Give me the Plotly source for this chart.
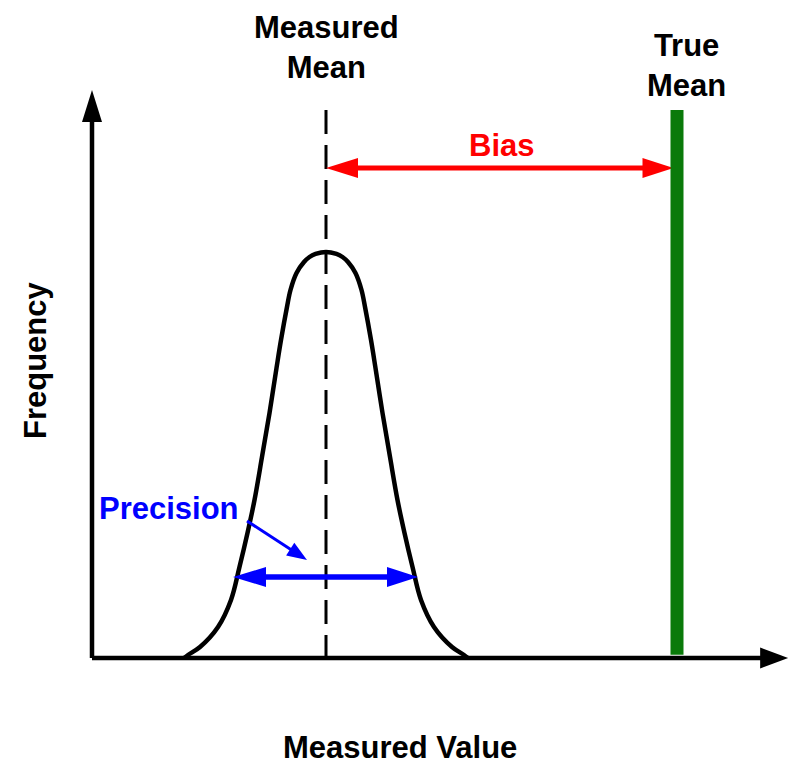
import plotly.graph_objects as go

# ---- data ----
curve_x = [1.573, 1.641, 1.846, 2.154, 2.376, 2.521, 2.658, 2.778, 2.906, 3.034, 3.154, 3.231, 3.333, 3.393,
           3.496, 3.624, 3.718, 3.821, 4.0,
           4.179, 4.282, 4.376, 4.504, 4.607, 4.667, 4.769, 4.846, 4.966, 5.094, 5.222, 5.342, 5.479, 5.624,
           5.846, 6.154, 6.359, 6.427]
curve_y = [0.0, 0.0074, 0.0271, 0.0764, 0.1429, 0.2241, 0.3079, 0.3892, 0.4951, 0.6034, 0.7143, 0.7833, 0.8645, 0.9064,
           0.9483, 0.9754, 0.9877, 0.9951, 1.0,
           0.9951, 0.9877, 0.9754, 0.9483, 0.9064, 0.8645, 0.7833, 0.7143, 0.6034, 0.4951, 0.3892, 0.3079, 0.2241, 0.1429,
           0.0764, 0.0271, 0.0074, 0.0]

measured_mean = 4.0
true_mean = 10.0
marker_top = 1.350          # top of the mean lines
bias_y = 1.207
precision_left = 2.410
precision_right = 5.573
precision_y = 0.1995
pointer_start = (2.650, 0.3374)
pointer_end = (3.675, 0.2414)
x_axis_end = 11.90
y_axis_end = 1.399

labels = {
    "measured_mean": "Measured<br>Mean",
    "true_mean": "True<br>Mean",
    "bias": "Bias",
    "precision": "Precision",
    "xlabel": "Measured Value",
    "ylabel": "Frequency",
}

# ---- scale (pixels per data unit) ----
W, H = 790, 761
PX_X, PX_Y = 58.5, 406.0
ORIG_PX, ORIG_PY = 92, 103   # origin offset from left / bottom
x_range = [-ORIG_PX / PX_X, (W - ORIG_PX) / PX_X]
y_range = [-ORIG_PY / PX_Y, (H - ORIG_PY) / PX_Y]
ORIG_TOP = H - ORIG_PY       # origin row from top

BLACK = "#000000"
RED = "#ff0000"
BLUE = "#0000ff"
GREEN = "#0a7a0a"
FONT = "Liberation Sans, Arial, sans-serif"


def head(tx, ty, ux, uy, L, Wd, color):
    """Filled triangular arrowhead, tip at (tx,ty), pointing along pixel dir (ux,uy) (y up)."""
    n = (ux ** 2 + uy ** 2) ** 0.5
    ux, uy = ux / n, uy / n
    px, py = -uy, ux
    bx, by = -ux * L, -uy * L
    p1 = (tx, ty)
    p2 = (tx + (bx + px * Wd / 2) / PX_X, ty + (by + py * Wd / 2) / PX_Y)
    p3 = (tx + (bx - px * Wd / 2) / PX_X, ty + (by - py * Wd / 2) / PX_Y)
    path = f"M {p1[0]},{p1[1]} L {p2[0]},{p2[1]} L {p3[0]},{p3[1]} Z"
    return dict(type="path", path=path, fillcolor=color, line=dict(width=0), xref="x", yref="y")


def seg(x0, y0, x1, y1, color, width, dash="solid"):
    return dict(type="line", x0=x0, y0=y0, x1=x1, y1=y1, xref="x", yref="y",
                line=dict(color=color, width=width, dash=dash))


fig = go.Figure()
fig.add_trace(go.Scatter(x=curve_x, y=curve_y, mode="lines",
                         line=dict(color=BLACK, width=4.5, shape="spline", smoothing=1.0),
                         hoverinfo="skip", showlegend=False))

shapes = []
# axes
shapes.append(seg(0, 0, x_axis_end - 20 / PX_X, 0, BLACK, 4.5))
shapes.append(head(x_axis_end, 0, 1, 0, 28, 21, BLACK))
shapes.append(seg(0, 0, 0, y_axis_end - 25 / PX_Y, BLACK, 4.5))
shapes.append(head(0, y_axis_end, 0, 1, 32, 20, BLACK))
# measured mean dashed line
shapes.append(seg(measured_mean, marker_top, measured_mean, 0, BLACK, 3, dash="24px,11px"))
# bias arrow
bias_tip_r = true_mean - 0.06
shapes.append(seg(measured_mean + 20 / PX_X, bias_y, bias_tip_r - 20 / PX_X, bias_y, RED, 5))
shapes.append(head(measured_mean, bias_y, -1, 0, 32, 20, RED))
shapes.append(head(bias_tip_r, bias_y, 1, 0, 31, 20, RED))
# true mean line
shapes.append(seg(true_mean, 0.008, true_mean, marker_top, GREEN, 13))
# precision arrow
shapes.append(seg(precision_left + 20 / PX_X, precision_y, precision_right - 20 / PX_X, precision_y, BLUE, 5.5))
shapes.append(head(precision_left, precision_y, -1, 0, 33, 20, BLUE))
shapes.append(head(precision_right, precision_y, 1, 0, 31, 20, BLUE))
# pointer arrow
dxp = (pointer_end[0] - pointer_start[0]) * PX_X
dyp = (pointer_end[1] - pointer_start[1]) * PX_Y
nrm = (dxp ** 2 + dyp ** 2) ** 0.5
shapes.append(seg(pointer_start[0], pointer_start[1],
                  pointer_end[0] - dxp / nrm * 12 / PX_X, pointer_end[1] - dyp / nrm * 12 / PX_Y, BLUE, 3))
shapes.append(head(pointer_end[0], pointer_end[1], dxp, dyp, 20, 15, BLUE))

ann_font = dict(family=FONT, size=31, color=BLACK)
annotations = [
    dict(x=measured_mean, y=(ORIG_TOP - 47) / PX_Y, text="<b>" + labels["measured_mean"] + "</b>",
         font=ann_font, yanchor="middle"),
    dict(x=(686 - ORIG_PX) / PX_X, y=(ORIG_TOP - 65) / PX_Y, text="<b>" + labels["true_mean"] + "</b>",
         font=ann_font, yanchor="middle"),
    dict(x=(501 - ORIG_PX) / PX_X, y=(ORIG_TOP - 145) / PX_Y, text="<b>" + labels["bias"] + "</b>",
         font=dict(family=FONT, size=31, color=RED), yanchor="middle"),
    dict(x=(169 - ORIG_PX) / PX_X, y=(ORIG_TOP - 508) / PX_Y, text="<b>" + labels["precision"] + "</b>",
         font=dict(family=FONT, size=31, color=BLUE), yanchor="middle"),
    dict(x=(400 - ORIG_PX) / PX_X, y=(ORIG_TOP - 747) / PX_Y, text="<b>" + labels["xlabel"] + "</b>",
         font=ann_font, yanchor="middle"),
    dict(x=(35 - ORIG_PX) / PX_X, y=(ORIG_TOP - 360) / PX_Y, text="<b>" + labels["ylabel"] + "</b>",
         font=ann_font, textangle=-90, yanchor="middle", xanchor="center"),
]
for a in annotations:
    a.update(xref="x", yref="y", showarrow=False, align="center")
    a.setdefault("xanchor", "center")

fig.update_layout(
    width=W, height=H, autosize=False,
    margin=dict(l=0, r=0, t=0, b=0, pad=0),
    paper_bgcolor="white", plot_bgcolor="white",
    xaxis=dict(range=x_range, visible=False, fixedrange=True),
    yaxis=dict(range=y_range, visible=False, fixedrange=True),
    shapes=shapes, annotations=annotations,
    showlegend=False,
)
fig.write_html("out.html", config={"displayModeBar": False},
               post_script="document.body.style.margin='0';document.body.style.overflow='hidden';")
